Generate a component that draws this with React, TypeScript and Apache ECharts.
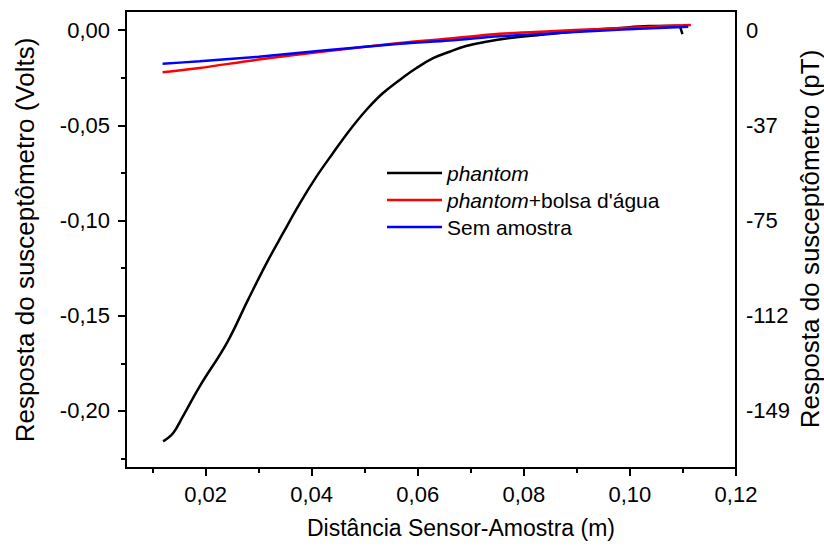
import React, { useEffect, useRef } from "react";
import * as echarts from "echarts";

const FONT = "'Liberation Sans', Arial, Helvetica, sans-serif";

// phantom (black)
const blackX = [0.0120, 0.0139, 0.0157, 0.0189, 0.0240, 0.0280, 0.0315, 0.0346, 0.0378, 0.0409, 0.0440, 0.0472, 0.0503, 0.0534, 0.0566, 0.0597, 0.0629, 0.0660, 0.0691, 0.0729, 0.0786, 0.0848, 0.0910, 0.0974, 0.1036, 0.1093, 0.1096, 0.1099];
const blackY = [-0.2160, -0.2116, -0.2030, -0.1871, -0.1644, -0.1417, -0.1224, -0.1067, -0.0909, -0.0770, -0.0647, -0.0525, -0.0420, -0.0332, -0.0262, -0.0201, -0.0148, -0.0114, -0.0084, -0.0061, -0.0038, -0.0021, -0.0004, 0.0009, 0.0021, 0.0023, 0.0005, -0.0021];

// phantom + bolsa d'água (red)
const redX = [0.0119, 0.0189, 0.0300, 0.0427, 0.0566, 0.0660, 0.0754, 0.0850, 0.0942, 0.1030, 0.1115];
const redY = [-0.0222, -0.0199, -0.0155, -0.0112, -0.0068, -0.0045, -0.0020, -0.0006, 0.0005, 0.0016, 0.0027];

// Sem amostra (blue)
const blueX = [0.0119, 0.0189, 0.0300, 0.0427, 0.0566, 0.0660, 0.0754, 0.0850, 0.0942, 0.1030, 0.1110];
const blueY = [-0.0177, -0.0164, -0.0140, -0.0106, -0.0072, -0.0055, -0.0033, -0.0018, -0.0004, 0.0008, 0.0017];

const seriesNames = ["phantom", "phantom+bolsa d'água", "Sem amostra"];

const xTickValues = [0.02, 0.04, 0.06, 0.08, 0.1, 0.12];
const xTickLabels = ["0,02", "0,04", "0,06", "0,08", "0,10", "0,12"];
const xMinorValues = [0.01, 0.03, 0.05, 0.07, 0.09, 0.11];

const yTickValues = [0, -0.05, -0.1, -0.15, -0.2];
const yTickLabels = ["0,00", "-0,05", "-0,10", "-0,15", "-0,20"];
const yMinorValues = [-0.025, -0.075, -0.125, -0.175, -0.225];
const rightTickLabels = ["0", "-37", "-75", "-112", "-149"];

const X_MIN = 0.005;
const X_MAX = 0.12;
const Y_MIN = -0.23;
const Y_MAX = 0.01;

function lookup(values: number[], labels: string[], v: number) {
  for (let i = 0; i < values.length; i++) {
    if (Math.abs(values[i] - v) < 1e-9) return labels[i];
  }
  return "";
}

export default function App() {
  const ref = useRef<HTMLDivElement>(null);

  useEffect(() => {
    if (!ref.current) return;
    const chart = echarts.init(ref.current, null, { renderer: "svg" });
    const pair = (xs: number[], ys: number[]) => xs.map((x, i) => [x, ys[i]]);
    const tickStyle = { color: "#000", width: 2 };
    const noLine = { show: false, onZero: false };

    chart.setOption({
      animation: false,
      backgroundColor: "#fff",
      grid: {
        left: 126,
        right: 88,
        top: 11,
        bottom: 81,
        show: true,
        borderColor: "#000",
        borderWidth: 2,
        outerBoundsMode: "none",
        containLabel: false,
      },
      xAxis: [
        {
          type: "value",
          min: X_MIN,
          max: X_MAX,
          position: "bottom",
          axisLine: noLine,
          splitLine: { show: false },
          axisTick: { show: true, customValues: xTickValues, length: 8, inside: false, lineStyle: tickStyle },
          axisLabel: {
            show: true,
            customValues: xTickValues,
            margin: 15,
            fontSize: 22,
            fontFamily: FONT,
            color: "#000",
            formatter: (v: number) => lookup(xTickValues, xTickLabels, v),
          },
        },
        {
          type: "value",
          min: X_MIN,
          max: X_MAX,
          position: "bottom",
          axisLine: noLine,
          splitLine: { show: false },
          axisTick: { show: true, customValues: xMinorValues, length: 5, inside: false, lineStyle: tickStyle },
          axisLabel: { show: false },
        },
      ],
      yAxis: [
        {
          type: "value",
          min: Y_MIN,
          max: Y_MAX,
          position: "left",
          axisLine: noLine,
          splitLine: { show: false },
          axisTick: { show: true, customValues: yTickValues, length: 8, lineStyle: tickStyle },
          axisLabel: {
            show: true,
            customValues: yTickValues,
            margin: 16,
            fontSize: 22,
            fontFamily: FONT,
            color: "#000",
            formatter: (v: number) => lookup(yTickValues, yTickLabels, v),
          },
        },
        {
          type: "value",
          min: Y_MIN,
          max: Y_MAX,
          position: "left",
          axisLine: noLine,
          splitLine: { show: false },
          axisTick: { show: true, customValues: yMinorValues, length: 5, lineStyle: tickStyle },
          axisLabel: { show: false },
        },
        {
          type: "value",
          min: Y_MIN,
          max: Y_MAX,
          position: "right",
          axisLine: noLine,
          splitLine: { show: false },
          axisTick: { show: false },
          axisLabel: {
            show: true,
            customValues: yTickValues,
            margin: 10,
            fontSize: 22,
            fontFamily: FONT,
            color: "#000",
            formatter: (v: number) => lookup(yTickValues, rightTickLabels, v),
          },
        },
      ],
      legend: {
        orient: "vertical",
        left: 387,
        top: 162.5,
        padding: 0,
        itemWidth: 55,
        itemHeight: 2.5,
        itemGap: 6,
        icon: "rect",
        data: seriesNames,
        formatter: (name: string) => {
          if (name === seriesNames[0]) return "{i|phantom}";
          if (name === seriesNames[1]) return "{i|phantom}{n|+bolsa d'água}";
          return "{n|" + name + "}";
        },
        textStyle: {
          color: "#000",
          fontSize: 21,
          fontFamily: FONT,
          rich: {
            i: { fontStyle: "italic", fontSize: 21, lineHeight: 21, fontFamily: FONT, color: "#000" },
            n: { fontSize: 21, lineHeight: 21, fontFamily: FONT, color: "#000" },
          },
        },
      },
      graphic: [
        {
          type: "text",
          x: 25,
          y: 240,
          rotation: Math.PI / 2,
          style: {
            text: "Resposta do susceptômetro (Volts)",
            font: `26px ${FONT}`,
            fill: "#000",
            textAlign: "center",
            textVerticalAlign: "middle",
          },
        },
        {
          type: "text",
          x: 810,
          y: 239,
          rotation: Math.PI / 2,
          style: {
            text: "Resposta do susceptômetro (pT)",
            font: `26px ${FONT}`,
            fill: "#000",
            textAlign: "center",
            textVerticalAlign: "middle",
          },
        },
        {
          type: "text",
          x: 461,
          y: 528,
          style: {
            text: "Distância Sensor-Amostra (m)",
            font: `23px ${FONT}`,
            fill: "#000",
            textAlign: "center",
            textVerticalAlign: "middle",
          },
        },
      ],
      series: [
        {
          name: seriesNames[0],
          type: "line",
          data: pair(blackX, blackY),
          symbol: "none",
          showSymbol: false,
          smooth: 0.4,
          color: "#000000",
          lineStyle: { color: "#000000", width: 2.5 },
          z: 3,
        },
        {
          name: seriesNames[1],
          type: "line",
          data: pair(redX, redY),
          symbol: "none",
          showSymbol: false,
          smooth: 0.3,
          color: "#ff0000",
          lineStyle: { color: "#ff0000", width: 2.5 },
          z: 4,
        },
        {
          name: seriesNames[2],
          type: "line",
          data: pair(blueX, blueY),
          symbol: "none",
          showSymbol: false,
          smooth: 0.3,
          color: "#0000ff",
          lineStyle: { color: "#0000ff", width: 2.5 },
          z: 5,
        },
      ],
    });

    return () => chart.dispose();
  }, []);

  return (
    <div
      ref={ref}
      style={{ position: "absolute", left: 0, top: 0, width: 824, height: 549, background: "#fff" }}
    />
  );
}
